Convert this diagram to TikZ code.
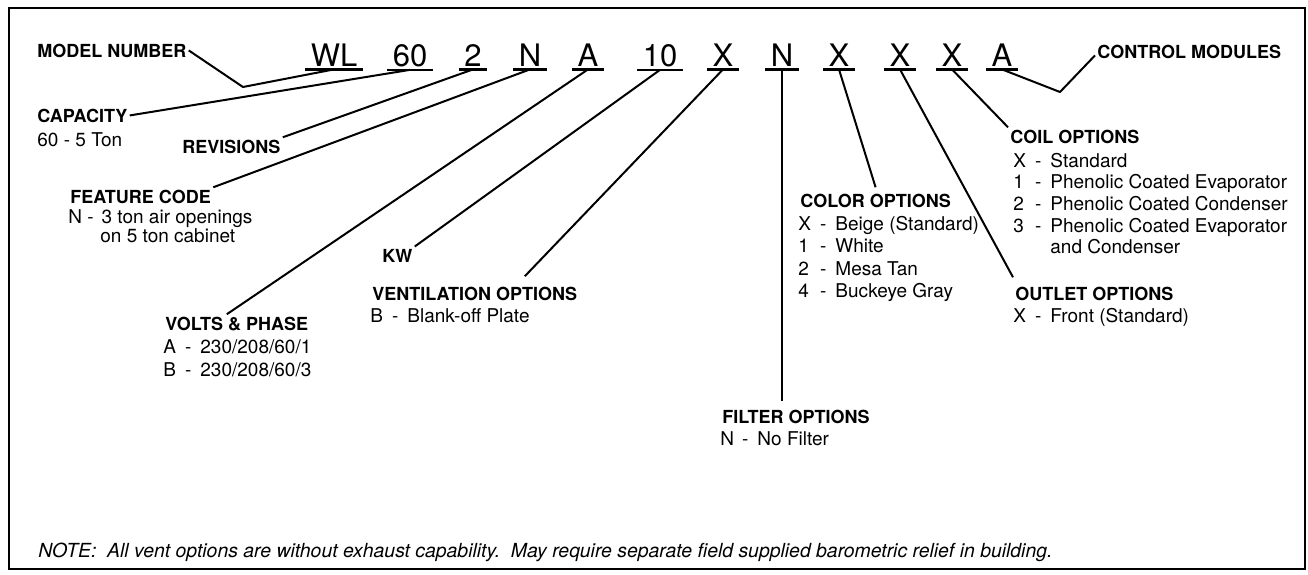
\documentclass[tikz,border=0pt]{standalone}
\usepackage{fontspec}
\setmainfont{TeX Gyre Heros}
\newcommand{\opt}[2]{\makebox[1.15em][l]{#1}\makebox[0.8em][l]{-}#2}
\tikzset{
	code/.style={anchor=base, inner xsep=2.5pt, inner ysep=1.5pt, font=\fontsize{15.5}{17}\selectfont},
	uline/.style={line width=1.1pt},
	head/.style={anchor=base west, inner sep=1pt, font=\fontsize{9}{10}\selectfont\bfseries},
	item/.style={anchor=base west, inner sep=1pt, font=\fontsize{9.5}{11}\selectfont},
	lead/.style={line width=1pt, line join=round},
}

\begin{document}
\begin{tikzpicture}[x=0.5pt,y=-0.5pt]
\useasboundingbox (0,0) rectangle (1308,574);

% frame
\draw[line width=1pt] (9,8) rectangle (1305,569);

% model number digits
\node[code] (cModel) at (334,66) {WL};
\node[code] (cCap) at (410,66) {60};
\node[code] (cRev) at (473,66) {2};
\node[code] (cFeat) at (530,66) {N};
\node[code] (cVolt) at (588,66) {A};
\node[code] (cKw) at (660,66) {10};
\node[code] (cVent) at (723,66) {X};
\node[code] (cFilt) at (782,66) {N};
\node[code] (cColor) at (839,66) {X};
\node[code] (cOutlet) at (900,66) {X};
\node[code] (cCoil) at (952,66) {X};
\node[code] (cCtrl) at (1002,66) {A};
\foreach \n in {cModel,cCap,cRev,cFeat,cVolt,cKw,cVent,cFilt,cColor,cOutlet,cCoil,cCtrl}
	\draw[uline] (\n.south west) -- (\n.south east);

% left side
\node[head] (model) at (35,57) {MODEL NUMBER};
\node[head] (capacity) at (35,122) {CAPACITY};
\node[item] (capacity1) at (35,146) {60 - 5 Ton};
\node[head] (revisions) at (180,153) {REVISIONS};
\node[head] (feature) at (68,203) {FEATURE CODE};
\node[item] (feature1) at (66,223) {\makebox[1em][l]{N}\makebox[0.75em][l]{-}3 ton air openings};
\node[item] (feature2) at (98,242) {on 5 ton cabinet};
\node[head] (volts) at (163,330) {VOLTS \& PHASE};
\node[item] (volts1) at (161,353) {\opt{A}{230/208/60/1}};
\node[item] (volts2) at (161,376) {\opt{B}{230/208/60/3}};
\node[head] (kw) at (380,262) {KW};
\node[head] (vent) at (370,300) {VENTILATION OPTIONS};
\node[item] (vent1) at (368,322) {\opt{B}{Blank-off Plate}};

% middle
\node[head] (filter) at (720,423) {FILTER OPTIONS};
\node[item] (filter1) at (718,445) {\opt{N}{No Filter}};
\node[head] (color) at (798,207) {COLOR OPTIONS};
\node[item] (color1) at (796,230) {\opt{X}{Beige (Standard)}};
\node[item] (color2) at (796,252) {\opt{1}{White}};
\node[item] (color3) at (796,275) {\opt{2}{Mesa Tan}};
\node[item] (color4) at (796,297) {\opt{4}{Buckeye Gray}};

% right side
\node[head] (coil) at (1008,143) {COIL OPTIONS};
\node[item] (coil1) at (1011,167) {\opt{X}{Standard}};
\node[item] (coil2) at (1011,188) {\opt{1}{Phenolic Coated Evaporator}};
\node[item] (coil3) at (1011,210) {\opt{2}{Phenolic Coated Condenser}};
\node[item] (coil4) at (1011,232) {\opt{3}{Phenolic Coated Evaporator}};
\node[item] (coil5) at (1048,253) {and Condenser};
\node[head] (outlet) at (1013,300) {OUTLET OPTIONS};
\node[item] (outlet1) at (1011,322) {\opt{X}{Front (Standard)}};
\node[head] (control) at (1095,58) {CONTROL MODULES};

% note
\node[item, font=\fontsize{9.7}{11}\selectfont\itshape] (note) at (36,557)
	{NOTE:\ \ All vent options are without exhaust capability.\ \ May require separate field supplied barometric relief in building.};

% leaders
\coordinate (modelBend) at (243,87);
\coordinate (ctrlBend) at (1060,92);
\draw[lead] (model.east) -- (modelBend) -- (cModel.south);
\draw[lead] (capacity.east) -- (cCap.south);
\draw[lead] (revisions.north east) -- (cRev.south);
\draw[lead] (feature.north east) -- (cFeat.south);
\draw[lead] ([xshift=-5pt]volts.north) -- (cVolt.south);
\draw[lead] (kw.north east) -- (cKw.south);
\draw[lead] ([xshift=25pt,yshift=4pt]vent.north) -- (cVent.south);
\draw[lead] (cFilt.south) -- ([yshift=3pt]cFilt.south |- filter.north);
\draw[lead] (cColor.south) -- ([yshift=2pt]color.north);
\draw[lead] (cOutlet.south) -- ([yshift=3.5pt]outlet.north west);
\draw[lead] (cCoil.south) -- (coil.north west);
\draw[lead] (cCtrl.south) -- (ctrlBend) -- ([yshift=-2pt]control.west);

\end{tikzpicture}
\end{document}
